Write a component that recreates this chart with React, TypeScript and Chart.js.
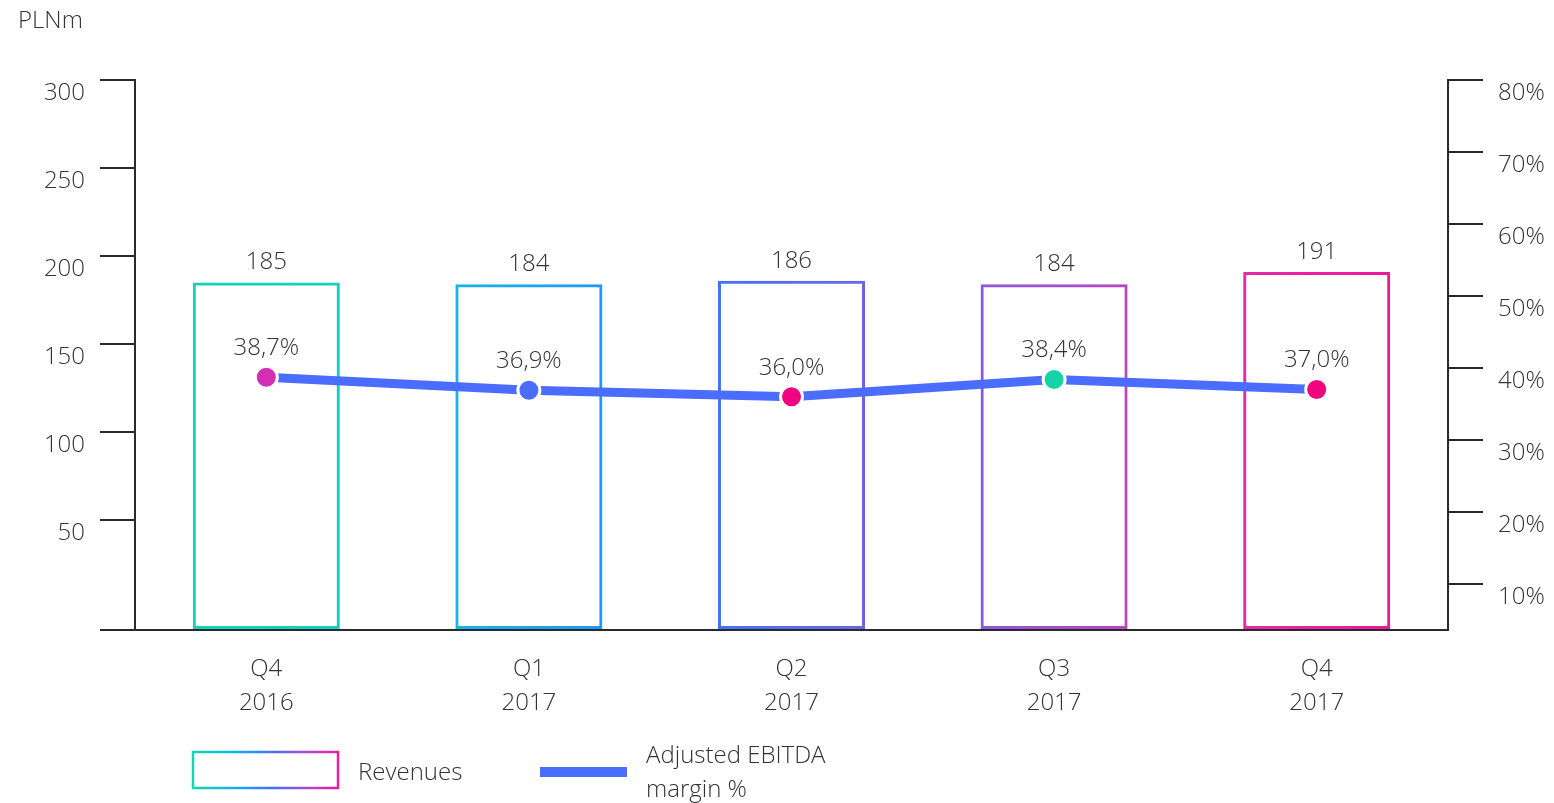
import React, { useEffect, useRef } from 'react';
import { Chart, registerables } from 'chart.js';

Chart.register(...registerables);

const categories = [['Q4', '2016'], ['Q1', '2017'], ['Q2', '2017'], ['Q3', '2017'], ['Q4', '2017']];
const revenues = [185, 184, 186, 184, 191];
const ebitdaMargin = [38.7, 36.9, 36.0, 38.4, 37.0];
const leftTicks = [50, 100, 150, 200, 250, 300];
const rightTicks = [10, 20, 30, 40, 50, 60, 70, 80];
const pointColors = ['#d32fb5', '#4a6cff', '#f1047f', '#14d3a6', '#f1047f'];
const leftMin = -12.3;
const leftMax = 300;
const rightMin = 3.6;
const rightMax = 80;

const FONT = "'Open Sans', 'Noto Sans', sans-serif";
const TEXT = '#333333';
const AXIS = '#2a2a2a';
const LINE = '#4a6cff';

const fmtPct = (v: number) => v.toFixed(1).replace('.', ',') + '%';

let barGradient: CanvasGradient | null = null;
let gradKey = '';
function getBarGradient(chart: any) {
  const { ctx, chartArea } = chart;
  if (!chartArea) return '#4a6cff';
  const key = chartArea.left + ':' + chartArea.right;
  if (!barGradient || gradKey !== key) {
    const g = ctx.createLinearGradient(chartArea.left, 0, chartArea.right, 0);
    g.addColorStop(0, '#12d6ae');
    g.addColorStop(0.15, '#12cfc0');
    g.addColorStop(0.25, '#18b2e8');
    g.addColorStop(0.36, '#2196f3');
    g.addColorStop(0.45, '#4670fb');
    g.addColorStop(0.56, '#6c66e4');
    g.addColorStop(0.65, '#8e58d8');
    g.addColorStop(0.76, '#bc44c4');
    g.addColorStop(0.85, '#e629a4');
    g.addColorStop(1, '#f2109a');
    barGradient = g;
    gradKey = key;
  }
  return barGradient;
}

const labelsPlugin = {
  id: 'customLabels',
  afterDraw(chart: any) {
    const c = chart.ctx;
    c.save();
    c.font = `300 24px ${FONT}`;
    c.fillStyle = TEXT;
    c.textAlign = 'center';
    c.textBaseline = 'middle';
    const barMeta = chart.getDatasetMeta(1);
    barMeta.data.forEach((el: any, i: number) => {
      c.fillText(String(revenues[i]), el.x, el.y - 20);
    });
    const lineMeta = chart.getDatasetMeta(0);
    lineMeta.data.forEach((el: any, i: number) => {
      c.fillText(fmtPct(ebitdaMargin[i]), el.x, el.y - 29);
    });
    // unit title
    c.textAlign = 'left';
    c.fillText('PLNm', 18, 21);
    // legend
    const bx = 193, by = 752, bw = 145, bh = 36;
    const g = c.createLinearGradient(bx, 0, bx + bw, 0);
    g.addColorStop(0, '#12d6ae');
    g.addColorStop(0.3, '#14aef0');
    g.addColorStop(0.55, '#4a6cff');
    g.addColorStop(0.8, '#b04ac8');
    g.addColorStop(1, '#ee1c9a');
    c.strokeStyle = g;
    c.lineWidth = 2.5;
    c.strokeRect(bx, by, bw, bh);
    c.fillStyle = TEXT;
    c.fillText('Revenues', 358, 773);
    c.fillStyle = LINE;
    c.fillRect(540, 767, 87, 10);
    c.fillStyle = TEXT;
    c.fillText('Adjusted EBITDA', 646, 756);
    c.fillText('margin %', 646, 790);
    c.restore();
  },
};

export default function App() {
  const ref = useRef<HTMLCanvasElement>(null);
  useEffect(() => {
    if (!ref.current) return;
    const font = { family: FONT, size: 24, weight: '300' as any };
    const chart = new Chart(ref.current, {
      type: 'bar',
      data: {
        labels: categories,
        datasets: [
          {
            type: 'line',
            label: 'Adjusted EBITDA margin %',
            data: ebitdaMargin,
            yAxisID: 'y1',
            borderColor: LINE,
            borderWidth: 9,
            pointRadius: 11,
            pointHoverRadius: 11,
            pointBorderWidth: 3,
            pointBorderColor: '#ffffff',
            pointBackgroundColor: pointColors,
            tension: 0,
          } as any,
          {
            type: 'bar',
            label: 'Revenues',
            data: revenues,
            yAxisID: 'y',
            base: leftMin,
            backgroundColor: 'rgba(0,0,0,0)',
            borderColor: (ctx: any) => getBarGradient(ctx.chart),
            borderWidth: 3,
            borderSkipped: false,
            categoryPercentage: 1,
            barPercentage: 0.56,
          } as any,
        ],
      },
      options: {
        animation: false,
        responsive: false,
        devicePixelRatio: 1,
        layout: { padding: { top: 80, left: 0, right: 0, bottom: 0 } },
        plugins: { legend: { display: false }, tooltip: { enabled: false } },
        scales: {
          x: {
            type: 'category',
            grid: { display: false, drawTicks: false },
            border: { display: true, color: AXIS, width: 2 },
            ticks: { font: { ...font, lineHeight: 1.42 }, color: TEXT, padding: 22, maxRotation: 0 },
            afterFit: (s: any) => { s.height = 173; },
          },
          y: {
            type: 'linear',
            position: 'left',
            min: leftMin,
            max: leftMax,
            afterBuildTicks: (s: any) => {
              s.ticks = [leftMin, ...leftTicks].map((v) => ({ value: v }));
            },
            grid: { drawOnChartArea: false, tickLength: 35, color: AXIS, lineWidth: 2 },
            border: { display: true, color: AXIS, width: 2 },
            ticks: {
              font,
              color: TEXT,
              padding: 15,
              labelOffset: 13,
              callback: (v: any) => (leftTicks.includes(v) ? String(v) : ''),
            },
            afterFit: (s: any) => { s.width = 135; },
          },
          y1: {
            type: 'linear',
            position: 'right',
            min: rightMin,
            max: rightMax,
            afterBuildTicks: (s: any) => {
              s.ticks = rightTicks.map((v) => ({ value: v }));
            },
            grid: { drawOnChartArea: false, tickLength: 35, color: AXIS, lineWidth: 2 },
            border: { display: true, color: AXIS, width: 2 },
            ticks: {
              font,
              color: TEXT,
              padding: 15,
              labelOffset: 13,
              callback: (v: any) => v + '%',
            },
            afterFit: (s: any) => { s.width = 106; },
          },
        },
      },
      plugins: [labelsPlugin],
    });
    return () => chart.destroy();
  }, []);
  return (
    <div style={{ position: 'absolute', left: 0, top: 0, width: 1554, height: 803, background: '#fff' }}>
      <canvas ref={ref} width={1554} height={803} />
    </div>
  );
}
